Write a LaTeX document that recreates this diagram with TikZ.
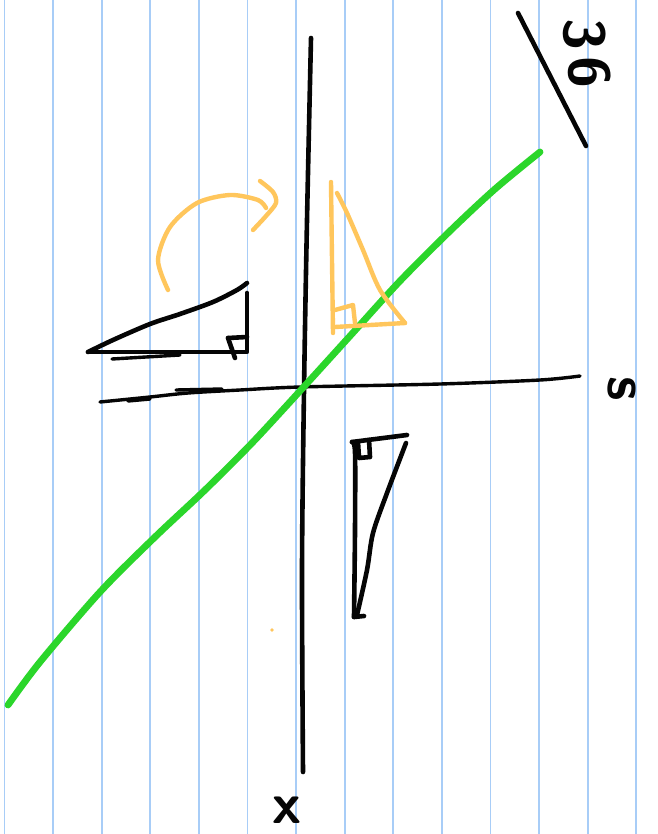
\documentclass[tikz,border=0pt]{standalone}
\usepackage{xcolor}
\usepackage{tikz}
\usetikzlibrary{positioning}
\definecolor{ruleblue}{HTML}{A8CDF7}
\definecolor{inkblack}{HTML}{050505}
\definecolor{inkgreen}{HTML}{2BD62B}
\definecolor{inkorange}{HTML}{FFC65C}

\begin{document}
\begin{tikzpicture}[x=1pt, y=-1pt, line cap=round, line join=round,
  inkpen/.style={inkblack, line width=4.6pt},
  thinpen/.style={inkblack, line width=3.4pt},
  greenpen/.style={inkgreen, line width=6.8pt},
  orangepen/.style={inkorange, line width=4.4pt},
  hand/.style={inkblack, font=\sffamily\bfseries\fontsize{58}{58}\selectfont, inner sep=0pt}]
\useasboundingbox (0,0) rectangle (657,834);
\fill[white] (0,0) rectangle (657,834);
% ruled paper
\foreach \gx in {4.5,53.1,...,640} \draw[ruleblue, line width=1.8pt] (\gx,0) -- (\gx,834);
% axes
\draw[inkpen] plot[smooth] coordinates {(311,38) (307,220) (304,390) (302,570) (303,772)};
\draw[thinpen] plot[smooth] coordinates {(100,402) (150,397) (188,393) (240,390) (300,387) (440,384) (540,380) (580,376)};
\draw[thinpen] (176,390) -- (222,389);
\draw[thinpen] (128,401) -- (150,399);
% green line
\draw[greenpen] plot[smooth, tension=0.5] coordinates {(8,705) (40,662) (100,592) (155,537) (205,490) (252,443) (300,391) (350,336) (400,281) (450,231) (495,189) (540,152)};
% upper left triangle
\draw[inkpen] plot[smooth] coordinates {(88,352) (113,340) (150,324) (180,314) (213,302) (237,290) (247,283)};
\draw[inkpen] (88,352) -- (247,352) -- (247,293);
\draw[thinpen] (112,359) -- (180,355);
\draw[inkpen] (228,338) -- (247,337);
\draw[inkpen] (228,338) -- (235,358);
% orange triangle and arrow
\draw[orangepen] plot[smooth] coordinates {(331,182) (332,260) (333,333)};
\draw[orangepen] plot[smooth] coordinates {(337,193) (347,213) (363,250) (380,290) (405,323)};
\draw[orangepen] (335,327) -- (405,323);
\draw[orangepen] (335,310) -- (353,305) -- (355,323);
\draw[orangepen] plot[smooth] coordinates {(168,290) (158,260) (170,227) (197,203) (230,195) (258,200) (266,208)};
\draw[orangepen] plot[smooth] coordinates {(260,181) (273,192) (276,203) (266,216) (253,230)};
\fill[inkorange] (272,630) circle (1.8);
% lower right triangle
\draw[inkpen] (352,442) -- (407,435);
\draw[inkpen] (358,442) -- (359,458) -- (370,457) -- (369,440);
\draw[inkpen] plot[smooth] coordinates {(352,442) (355,452) (355,530) (354,617)};
\draw[inkpen] plot[smooth] coordinates {(406,443) (387,493) (373,533) (367,570) (357,615)};
\draw[inkpen] (354,617) -- (364,616);
% top right mark
\draw[inkpen] (518,13) -- (586,146);
\node[hand, rotate=-90] (three) at (585,34) {3};
\node[hand, rotate=-90] (six) at (590,72) {6};
% axis labels
\node[hand, rotate=-90] (sLabel) at (622,389) {s};
\node[hand] (xLabel) at (287,810) {x};
\end{tikzpicture}
\end{document}
